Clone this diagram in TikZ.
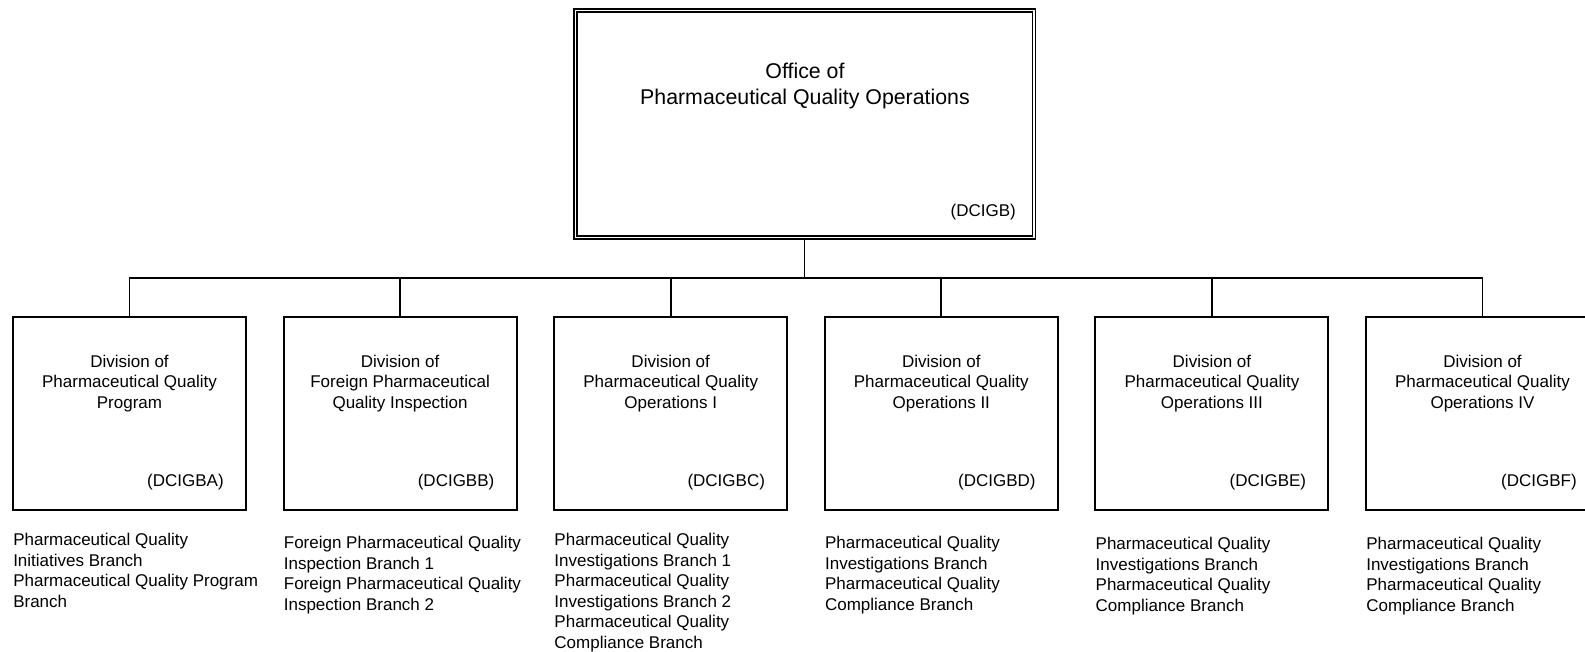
\documentclass[tikz,border=0pt]{standalone}
\usepackage{fontspec}
\setmainfont{Liberation Sans}
\begin{document}
\begin{tikzpicture}[x=0.75pt,y=-0.75pt,
  topbox/.style={draw, double, line width=1.15pt, double distance=1.1pt, inner sep=0pt, outer sep=1.7pt,
    minimum width=343.9pt, minimum height=170.6pt},
  divbox/.style={draw, line width=1.4pt, inner sep=0pt, outer sep=0pt,
    minimum width=174.75pt, minimum height=144.75pt},
  toptitle/.style={align=center, inner sep=0pt, font=\fontsize{16}{19.5}\selectfont},
  divtitle/.style={align=center, inner sep=0pt, font=\fontsize{12.75}{15.4}\selectfont},
  code/.style={anchor=east, inner sep=0pt, font=\fontsize{12.75}{15.4}\selectfont},
  branch/.style={anchor=north west, align=left, inner sep=0pt, font=\fontsize{12.75}{15.4}\selectfont},
  conn/.style={draw, line width=1.35pt}]
\useasboundingbox (0,0) rectangle (1585,652);
\begin{scope}
\clip (0,0) rectangle (1585,652);
% top box
\node[topbox] (top) at (804.5,124) {};
\node[toptitle] (toptxt) at (805,86) {Office of\\Pharmaceutical Quality Operations};
\node[code] (topcode) at ([shift={(-20,-28)}]top.south east) {(DCIGB)};
% division boxes
\node[divbox] (d1) at (129.5,413.5) {};
\node[divbox] (d2) at (400.1,413.5) {};
\node[divbox] (d3) at (670.7,413.5) {};
\node[divbox] (d4) at (941.3,413.5) {};
\node[divbox] (d5) at (1211.9,413.5) {};
\node[divbox] (d6) at (1482.5,413.5) {};
% titles
\node[divtitle] (t1) at (129.5,383.5) {Division of\\Pharmaceutical Quality\\Program};
\node[divtitle] (t2) at (400.1,383.5) {Division of\\Foreign Pharmaceutical\\Quality Inspection};
\node[divtitle] (t3) at (670.7,383.5) {Division of\\Pharmaceutical Quality\\Operations I};
\node[divtitle] (t4) at (941.3,383.5) {Division of\\Pharmaceutical Quality\\Operations II};
\node[divtitle] (t5) at (1211.9,383.5) {Division of\\Pharmaceutical Quality\\Operations III};
\node[divtitle] (t6) at (1482.5,383.5) {Division of\\Pharmaceutical Quality\\Operations IV};
% codes
\node[code] (c1) at ([shift={(-22,-28)}]d1.south east) {(DCIGBA)};
\node[code] (c2) at ([shift={(-22,-28)}]d2.south east) {(DCIGBB)};
\node[code] (c3) at ([shift={(-22,-28)}]d3.south east) {(DCIGBC)};
\node[code] (c4) at ([shift={(-22,-28)}]d4.south east) {(DCIGBD)};
\node[code] (c5) at ([shift={(-22,-28)}]d5.south east) {(DCIGBE)};
\node[code] (c6) at ([shift={(-22,-28)}]d6.south east) {(DCIGBF)};
% branches
\node[branch] (b1) at ([shift={(0,23)}]d1.south west) {Pharmaceutical Quality\\Initiatives Branch\\Pharmaceutical Quality Program\\Branch};
\node[branch] (b2) at ([shift={(0,26)}]d2.south west) {Foreign Pharmaceutical Quality\\Inspection Branch 1\\Foreign Pharmaceutical Quality\\Inspection Branch 2};
\node[branch] (b3) at ([shift={(0,23)}]d3.south west) {Pharmaceutical Quality\\Investigations Branch 1\\Pharmaceutical Quality\\Investigations Branch 2\\Pharmaceutical Quality\\Compliance Branch};
\node[branch] (b4) at ([shift={(0,26)}]d4.south west) {Pharmaceutical Quality\\Investigations Branch\\Pharmaceutical Quality\\Compliance Branch};
\node[branch] (b5) at ([shift={(0,27)}]d5.south west) {Pharmaceutical Quality\\Investigations Branch\\Pharmaceutical Quality\\Compliance Branch};
\node[branch] (b6) at ([shift={(0,27)}]d6.south west) {Pharmaceutical Quality\\Investigations Branch\\Pharmaceutical Quality\\Compliance Branch};
% connectors
\coordinate (bus) at (804.5,278);
\foreach \d in {d1,d2,d3,d4,d5,d6}{
  \draw[conn] (top.south) -- (bus) -| (\d.north);
}
\end{scope}
\end{tikzpicture}
\end{document}
